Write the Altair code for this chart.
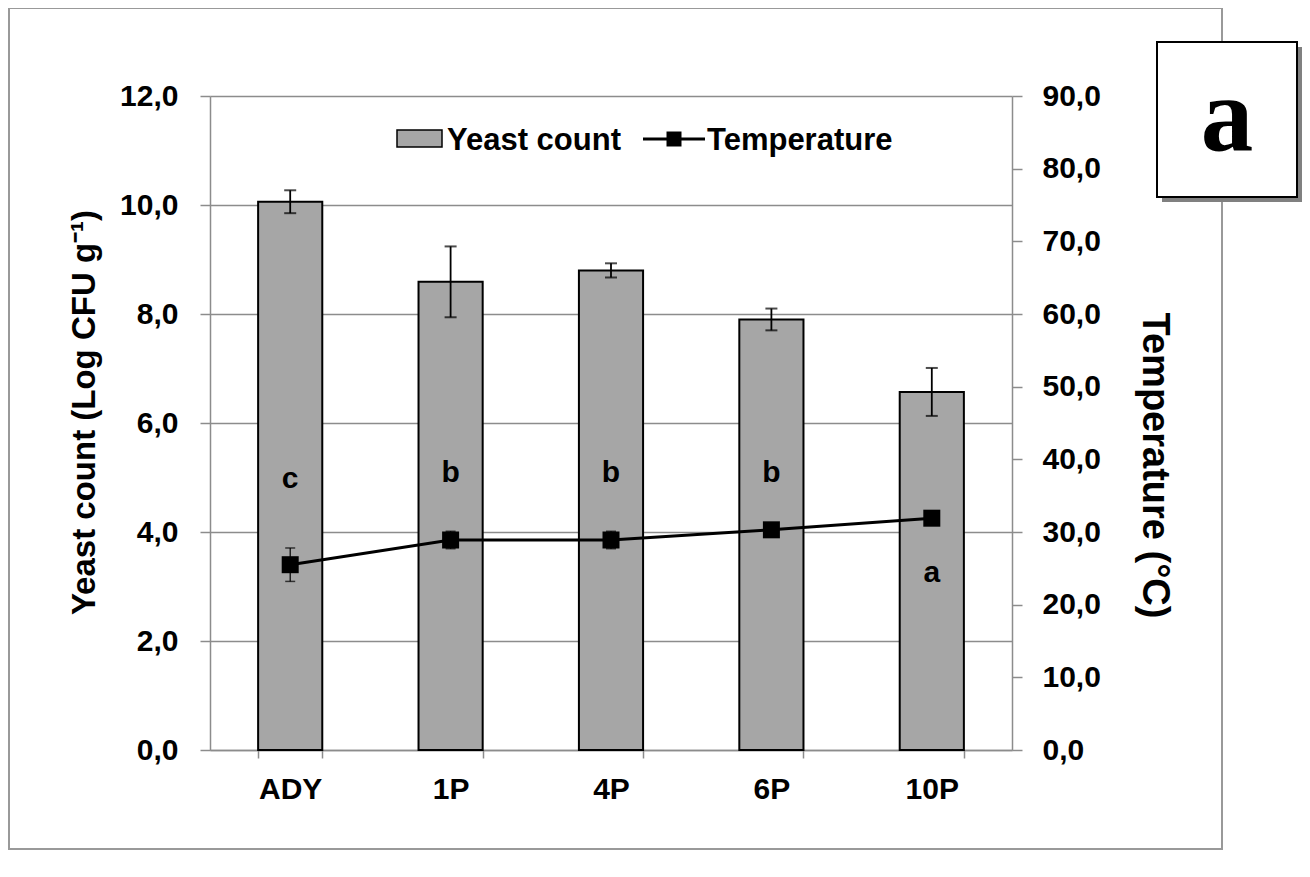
import altair as alt
import pandas as pd

categories = ["ADY", "1P", "4P", "6P", "10P"]
yeast = [10.06, 8.59, 8.80, 7.90, 6.57]
yeast_err = [0.21, 0.65, 0.13, 0.20, 0.44]
temperature = [25.5, 28.9, 28.9, 30.3, 31.9]
temp_err = [2.3, 1.2, 1.2, 0.5, 0.5]
letters = ["c", "b", "b", "b", "a"]
letter_y = [4.81, 4.92, 4.92, 4.92, 3.09]
yeast_ticks = [0, 2, 4, 6, 8, 10, 12]
temp_ticks = [0, 10, 20, 30, 40, 50, 60, 70, 80, 90]

df = pd.DataFrame({
    "cat": categories,
    "yeast": yeast,
    "yeast_err": yeast_err,
    "temp": temperature,
    "temp_err": temp_err,
    "letter": letters,
    "letter_y": letter_y,
})
df["y_lo"] = df["yeast"] - df["yeast_err"]
df["y_hi"] = df["yeast"] + df["yeast_err"]
df["t_lo"] = df["temp"] - df["temp_err"]
df["t_hi"] = df["temp"] + df["temp_err"]

FONT = "Liberation Sans"
GRAY = "#8c8c8c"
BARFILL = "#A6A6A6"
comma_fmt = "replace(format(datum.value, '.1f'), '.', ',')"

xscale = alt.Scale(paddingInner=0.6, paddingOuter=0.3)
x_axis = alt.X("cat:N", sort=categories, scale=xscale,
               axis=alt.Axis(title=None, labelAngle=0, tickBand="extent", tickSize=8,
                             labelPadding=16, grid=False, domainColor=GRAY,
                             tickColor=GRAY, domainWidth=1.5, tickWidth=1.5))
x_plain = alt.X("cat:N", sort=categories, scale=xscale)

base = alt.Chart(df)

left_axis = alt.Axis(values=yeast_ticks, labelExpr=comma_fmt, grid=True, gridColor=GRAY,
                     gridWidth=1.5, tickSize=10, tickColor=GRAY, tickWidth=1.5,
                     domainColor=GRAY, domainWidth=1.5, labelPadding=22,
                     title="Yeast count (Log CFU g\u207b\u00b9)", titleFontSize=33,
                     titleAngle=-90, titleX=-126, titleY=316, titleAlign="center",
                     titleBaseline="middle")
yscale = alt.Scale(domain=[0, 12], nice=False, zero=True)

bars = base.mark_bar(color=BARFILL, stroke="black", strokeWidth=2).encode(
    x=x_axis, y=alt.Y("yeast:Q", scale=yscale, axis=left_axis))
y_rule = base.mark_rule(color="black", strokeWidth=1.8).encode(
    x=x_plain, y=alt.Y("y_lo:Q"), y2="y_hi:Q")
y_cap_lo = base.mark_tick(color="black", size=12, thickness=2).encode(
    x=x_plain, y=alt.Y("y_lo:Q"))
y_cap_hi = base.mark_tick(color="black", size=12, thickness=2).encode(
    x=x_plain, y=alt.Y("y_hi:Q"))
letter_txt = base.mark_text(font=FONT, fontSize=30, fontWeight="bold", color="black",
                            baseline="alphabetic", align="center").encode(
    x=x_plain, y=alt.Y("letter_y:Q"), text="letter:N")

dummy = alt.Chart(pd.DataFrame({"k": [0]}))

frame = dummy.mark_rect(fillOpacity=0, stroke="#999999", strokeWidth=2).encode(
    x=alt.value(-201), x2=alt.value(1012), y=alt.value(-88), y2=alt.value(753))

# legend
leg_swatch = dummy.mark_rect(fill=BARFILL, stroke="black", strokeWidth=1.5).encode(
    x=alt.value(187), x2=alt.value(232), y=alt.value(34), y2=alt.value(51))
leg_txt1 = dummy.mark_text(font=FONT, fontSize=31, fontWeight="bold", color="black",
                           align="left", baseline="alphabetic", text="Yeast count").encode(
    x=alt.value(237), y=alt.value(54))
leg_line = dummy.mark_rule(color="black", strokeWidth=3).encode(
    x=alt.value(433), x2=alt.value(495), y=alt.value(43))
leg_sq = dummy.mark_point(shape="square", filled=True, size=225, color="black", opacity=1).encode(
    x=alt.value(464), y=alt.value(43))
leg_txt2 = dummy.mark_text(font=FONT, fontSize=31, fontWeight="bold", color="black",
                           align="left", baseline="alphabetic", text="Temperature").encode(
    x=alt.value(497), y=alt.value(54))

# panel label box
shadow = dummy.mark_rect(fill="#808080").encode(
    x=alt.value(952), x2=alt.value(1092), y=alt.value(-49), y2=alt.value(106))
box = dummy.mark_rect(fill="white", stroke="black", strokeWidth=2).encode(
    x=alt.value(947), x2=alt.value(1087), y=alt.value(-54), y2=alt.value(101))
box_txt = dummy.mark_text(font="Liberation Serif", fontSize=105, fontWeight="bold",
                          color="black", align="center", baseline="alphabetic",
                          text="a").encode(x=alt.value(1017), y=alt.value(54))

yeast_layer = alt.layer(frame, bars, y_rule, y_cap_lo, y_cap_hi, letter_txt,
                        leg_swatch, leg_txt1, leg_line, leg_sq, leg_txt2,
                        shadow, box, box_txt)

right_axis = alt.Axis(orient="right", values=temp_ticks, labelExpr=comma_fmt, grid=False,
                      tickSize=10, tickColor=GRAY, tickWidth=1.5, domainColor=GRAY,
                      domainWidth=1.5, labelPadding=20,
                      title="Temperature (\u00b0C)", titleFontSize=38, titleAngle=90,
                      titleX=141, titleY=369, titleAlign="center", titleBaseline="middle")
tscale = alt.Scale(domain=[0, 90], nice=False, zero=True)

t_line = base.mark_line(color="black", strokeWidth=3).encode(
    x=x_plain, y=alt.Y("temp:Q", scale=tscale, axis=right_axis))
t_rule = base.mark_rule(color="black", strokeWidth=1.2).encode(
    x=x_plain, y=alt.Y("t_lo:Q"), y2="t_hi:Q")
t_cap_lo = base.mark_tick(color="black", size=10, thickness=1.5).encode(
    x=x_plain, y=alt.Y("t_lo:Q"))
t_cap_hi = base.mark_tick(color="black", size=10, thickness=1.5).encode(
    x=x_plain, y=alt.Y("t_hi:Q"))
t_pts = base.mark_point(shape="square", filled=True, size=289, color="black", opacity=1).encode(
    x=x_plain, y=alt.Y("temp:Q"))

temp_layer = alt.layer(t_line, t_rule, t_cap_lo, t_cap_hi, t_pts)

chart = alt.layer(yeast_layer, temp_layer).resolve_scale(y="independent").properties(
    width=802, height=654,
    autosize=alt.AutoSizeParams(type="none"),
    padding={"left": 202, "top": 88, "right": 290, "bottom": 100},
).configure_view(stroke=None).configure_axis(
    labelFont=FONT, labelFontWeight="bold", labelFontSize=30, labelColor="black",
    titleFont=FONT, titleFontWeight="bold", titleColor="black"
)

chart.save("out.html", embed_options={"renderer": "svg", "actions": False})
